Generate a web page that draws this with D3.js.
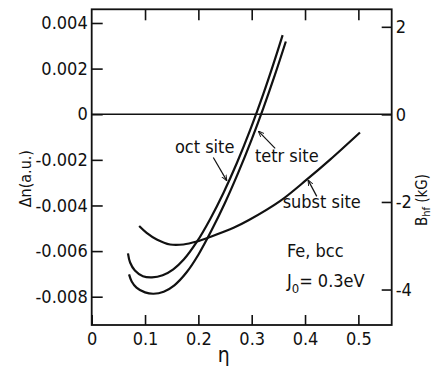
<!DOCTYPE html>
<html>
<head>
<meta charset="utf-8">
<script src="https://cdn.jsdelivr.net/npm/d3@7"></script>
<style>
  body { margin: 0; background: #fff; }
  svg text { font-family: "DejaVu Sans Condensed", "Liberation Sans Narrow", "DejaVu Sans", sans-serif; fill: #111; }
</style>
</head>
<body>
<div id="chart"></div>
<script>
// eta values and delta-n
const octEta = [0.068, 0.072, 0.081, 0.096, 0.113, 0.133, 0.153, 0.173, 0.197, 0.222, 0.247, 0.272, 0.297, 0.322, 0.340, 0.358]
const octDn = [-0.0061, -0.0065, -0.00685, -0.0071, -0.00715, -0.00706, -0.0068, -0.00636, -0.0056, -0.0046, -0.00345, -0.00215, -0.0007, 0.0009, 0.00215, 0.00347]

const tetrEta = [0.070, 0.075, 0.084, 0.100, 0.116, 0.135, 0.155, 0.178, 0.200, 0.225, 0.250, 0.275, 0.300, 0.322, 0.343, 0.364]
const tetrDn = [-0.00702, -0.00733, -0.0076, -0.00781, -0.00787, -0.00778, -0.0075, -0.00693, -0.00616, -0.00508, -0.00388, -0.00255, -0.0011, 0.00028, 0.00169, 0.00319]

const substEta = [0.089, 0.103, 0.122, 0.147, 0.172, 0.197, 0.222, 0.266, 0.294, 0.353, 0.403, 0.447, 0.503]
const substDn = [-0.0049, -0.0052, -0.00549, -0.00571, -0.00571, -0.00558, -0.00538, -0.00498, -0.00465, -0.00381, -0.00287, -0.00199, -0.0008]

const xTicks = [0, 0.1, 0.2, 0.3, 0.4, 0.5]
const yTicks = [-0.008, -0.006, -0.004, -0.002, 0, 0.002, 0.004]
const bTicks = [-4, -2, 0, 2]

const w = 433, h = 371
const mLeft = 91.7, mRight = 391.7, mTop = 9.3, mBottom = 325

let x = d3.scaleLinear().domain([0, 0.5625]).range([mLeft, mRight])
let y = d3.scaleLinear().domain([-0.00924, 0.0046]).range([mBottom, mTop])
let yB = d3.scaleLinear().domain([-4.81, 2.40]).range([mBottom, mTop])

let svg = d3.select('#chart').append('svg')
	.attr('width', w)
	.attr('height', h)

//axes, ticks point inward
let gx = svg.append('g').attr('transform', `translate(0,${mBottom})`)
	.call(d3.axisBottom(x).tickValues(xTicks).tickSize(-10).tickPadding(7)
		.tickFormat(d => d === 0 ? '0' : d.toFixed(1)))
let gxTop = svg.append('g').attr('transform', `translate(0,${mTop})`)
	.call(d3.axisTop(x).tickValues(xTicks.slice(1)).tickSize(-11).tickFormat(''))
let gy = svg.append('g').attr('transform', `translate(${mLeft},0)`)
	.call(d3.axisLeft(y).tickValues(yTicks).tickSize(-11).tickPadding(4)
		.tickFormat(d => d === 0 ? '0' : d.toFixed(3)))
let gyR = svg.append('g').attr('transform', `translate(${mRight},0)`)
	.call(d3.axisRight(yB).tickValues(bTicks).tickSize(-10).tickPadding(4)
		.tickFormat(d => String(d)))

;[gx, gxTop, gy, gyR].forEach(g => {
	g.select('.domain').remove()
	g.selectAll('line').attr('stroke', '#111').attr('stroke-width', 1.6)
	g.selectAll('text').style('font-size', '18px').attr('fill', '#111')
})

//frame
svg.append('rect')
	.attr('x', mLeft).attr('y', mTop)
	.attr('width', mRight - mLeft).attr('height', mBottom - mTop)
	.attr('fill', 'none').attr('stroke', '#111').attr('stroke-width', 1.8)

//zero line
svg.append('line')
	.attr('x1', mLeft).attr('x2', mRight)
	.attr('y1', y(0)).attr('y2', y(0))
	.attr('stroke', '#111').attr('stroke-width', 1.6)

//curves
let line = d3.line()
	.x(d => x(d[0]))
	.y(d => y(d[1]))
	.curve(d3.curveCatmullRom.alpha(0.5))

let series = [
	d3.zip(octEta, octDn),
	d3.zip(tetrEta, tetrDn),
	d3.zip(substEta, substDn)
]
svg.selectAll('.curve')
	.data(series)
	.join('path')
	.attr('class', 'curve')
	.attr('d', line)
	.attr('fill', 'none')
	.attr('stroke', '#111')
	.attr('stroke-width', 2.2)

//axis titles
svg.append('text')
	.attr('transform', `translate(31,${(y(-0.00155) + y(-0.0041)) / 2}) rotate(-90)`)
	.attr('text-anchor', 'middle')
	.style('font-size', '16px')
	.text('Δn(a.u.)')

let bTitle = svg.append('text')
	.attr('transform', `translate(427,200) rotate(-90)`)
	.attr('text-anchor', 'middle')
	.style('font-size', '15px')
bTitle.append('tspan').text('B')
bTitle.append('tspan').attr('dy', 3).style('font-size', '11px').text('hf')
bTitle.append('tspan').attr('dy', -3).text(' (kG)')

svg.append('text')
	.attr('x', (mLeft + mRight) / 2 - 18).attr('y', 362)
	.attr('text-anchor', 'middle')
	.style('font-size', '21px')
	.text('η')

//curve labels with pointers [label pos, pointer from, pointer to] in data units
let labels = [
	{text: 'oct site', at: [0.156, -0.0017], from: [0.228, -0.0019], to: [0.253, -0.0029]},
	{text: 'tetr site', at: [0.306, -0.0021], from: [0.344, -0.0015], to: [0.313, -0.00075]},
	{text: 'subst site', at: [0.358, -0.0041], from: [0.422, -0.0036], to: [0.406, -0.0029]}
]

svg.append('defs').append('marker')
	.attr('id', 'tip')
	.attr('viewBox', '0 0 10 10')
	.attr('refX', 9).attr('refY', 5)
	.attr('markerWidth', 5).attr('markerHeight', 5)
	.attr('orient', 'auto')
	.append('path').attr('d', 'M0,1 L10,5 L0,9').attr('fill', 'none').attr('stroke', '#111').attr('stroke-width', 1.5)

labels.forEach(l => {
	svg.append('text')
		.attr('x', x(l.at[0])).attr('y', y(l.at[1]))
		.style('font-size', '18px')
		.text(l.text)
	svg.append('line')
		.attr('x1', x(l.from[0])).attr('y1', y(l.from[1]))
		.attr('x2', x(l.to[0])).attr('y2', y(l.to[1]))
		.attr('stroke', '#111').attr('stroke-width', 1.2)
		.attr('marker-end', 'url(#tip)')
})

svg.append('text')
	.attr('x', x(0.366)).attr('y', y(-0.00624))
	.style('font-size', '18px')
	.text('Fe, bcc')

let jText = svg.append('text')
	.attr('x', x(0.366)).attr('y', y(-0.00759))
	.style('font-size', '18px')
jText.append('tspan').text('J')
jText.append('tspan').attr('dy', 6).style('font-size', '13px').text('0')
jText.append('tspan').attr('dy', -6).text('= 0.3eV')
</script>
</body>
</html>
